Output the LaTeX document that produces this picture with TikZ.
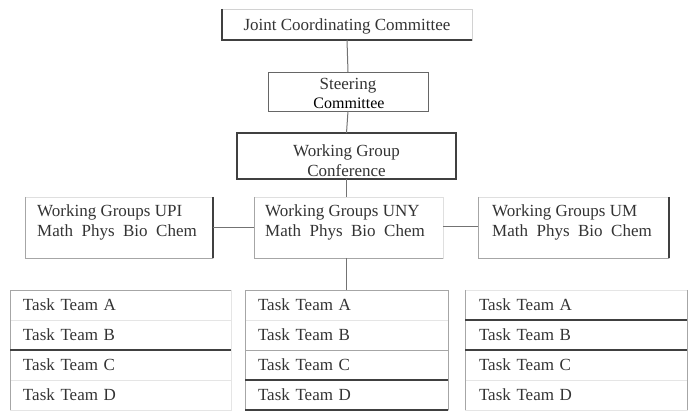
\documentclass[tikz,border=0pt]{standalone}
\usepackage{fontspec}
\setmainfont{Liberation Serif}
\usetikzlibrary{positioning,calc}

\begin{document}
\begin{tikzpicture}[x=1pt, y=-1pt, font=\fontsize{17}{20}\selectfont, text=black!80,
  box/.style={draw=gray!60, line width=0.9pt, inner sep=0pt, outer sep=0pt},
  wg/.style={draw=gray!25, line width=0.9pt, minimum height=61pt, outer sep=0pt},
  lbl/.style={inner sep=0pt, align=left},
  row/.style={draw=gray!20, line width=0.8pt, align=left, minimum height=30pt, outer sep=0pt},
  edge/.style={draw=gray!70, line width=0.9pt},
  dark/.style={draw=black!75, line width=1.2pt},
  link/.style={draw=black!55, line width=1pt}]
  \useasboundingbox (0,0) rectangle (691,411);
  % committees
  \node[box, minimum width=250pt, minimum height=31pt, draw=gray!35] (jcc) at (347,24.5) {};
  \node[lbl, anchor=base] (jcctxt) at (347,31) {Joint Coordinating Committee};
  \node[box, minimum width=160pt, minimum height=39pt, draw=black!60] (steer) at (348,91.5) {};
  \node[lbl, anchor=base] (steertxt) at (348,90) {Steering};
  \node[fill=white, inner xsep=0pt, inner ysep=1.5pt, minimum width=120pt, font=\fontsize{16}{18}\selectfont, text=black] (comm) at (349,103.5) {Committee};
  \node[box, minimum width=219pt, minimum height=46pt, draw=black!75, line width=1.6pt] (wgc) at (346.5,156) {};
  \node[lbl, align=center, anchor=base] (wgctxt) at (346.5,177) {Working Group\\Conference};
  % working groups
  \node[wg, minimum width=188pt] (upi) at (119,227.5) {};
  \node[wg, minimum width=189pt] (uny) at (348.5,227.5) {};
  \node[wg, minimum width=191pt] (um) at (573.5,227.5) {};
  \node[lbl, anchor=base west] (upitxt) at (37,237) {Working Groups UPI\\Math~~Phys~~Bio~~Chem};
  \node[lbl, anchor=base west] (unytxt) at (265,237) {Working Groups UNY\\Math~~Phys~~Bio~~Chem};
  \node[lbl, anchor=base west] (umtxt) at (492,237) {Working Groups UM\\Math~~Phys~~Bio~~Chem};
  % task teams
  \node[row, minimum width=221pt, inner xsep=13pt, text width=195pt] (ta1) at (120.5,305) {Task Team A};
  \node[row, minimum width=221pt, inner xsep=13pt, text width=195pt, below=0pt of ta1] (ta2) {Task Team B};
  \node[row, minimum width=221pt, inner xsep=13pt, text width=195pt, below=0pt of ta2] (ta3) {Task Team C};
  \node[row, minimum width=221pt, inner xsep=13pt, text width=195pt, below=0pt of ta3] (ta4) {Task Team D};
  \node[row, minimum width=203pt, inner xsep=13pt, text width=177pt] (tb1) at (346.5,305) {Task Team A};
  \node[row, minimum width=203pt, inner xsep=13pt, text width=177pt, below=0pt of tb1] (tb2) {Task Team B};
  \node[row, minimum width=203pt, inner xsep=13pt, text width=177pt, below=0pt of tb2] (tb3) {Task Team C};
  \node[row, minimum width=203pt, inner xsep=13pt, text width=177pt, below=0pt of tb3] (tb4) {Task Team D};
  \node[row, minimum width=222pt, inner xsep=14pt, text width=194pt] (tc1) at (576,305) {Task Team A};
  \node[row, minimum width=222pt, inner xsep=14pt, text width=194pt, below=0pt of tc1] (tc2) {Task Team B};
  \node[row, minimum width=222pt, inner xsep=14pt, text width=194pt, below=0pt of tc2] (tc3) {Task Team C};
  \node[row, minimum width=222pt, inner xsep=14pt, text width=194pt, below=0pt of tc3] (tc4) {Task Team D};
  % darker box sides
  \draw[dark] (jcc.north west) -- (jcc.south west) -- (jcc.south east);
  \draw[edge] (upi.north west) -- (upi.south west) -- (upi.south east);
  \draw[dark] (upi.north east) -- (upi.south east);
  \draw[edge] (uny.north west) -- (uny.south west) -- (uny.south east);
  \draw[edge] (um.north west) -- (um.south west) -- (um.south east);
  \draw[dark] (um.north east) -- (um.south east);
  % table lines
  \draw[edge] (ta1.north east) -- (ta1.north west) -- (ta4.south west);
  \draw[dark] (ta2.south west) -- (ta2.south east);
  \draw[edge] (tb4.south west) -- (tb1.north west) -- (tb1.north east) -- (tb4.south east);
  \draw[edge] (tb2.south west) -- (tb2.south east);
  \draw[dark] (tb3.south west) -- (tb3.south east);
  \draw[dark] (tb4.south west) -- (tb4.south east);
  \draw[edge] (tc1.north west) -- (tc4.south west);
  \draw[edge] (tc1.north east) -- (tc4.south east);
  \draw[dark] (tc1.south west) -- (tc1.south east);
  \draw[dark] (tc2.south west) -- (tc2.south east);
  % connectors
  \draw[link] (jcc.south) -- (steer.north);
  \draw[link] (steer.south) -- (wgc.north);
  \draw[link] (wgc.south) -- (wgc.south |- uny.north);
  \draw[link] (upi.east |- 0,228) -- (uny.west |- 0,228);
  \draw[link] (uny.east |- 0,227) -- (um.west |- 0,227);
  \draw[link] (uny.south -| wgc.south) -- (wgc.south |- tb1.north);
  \draw[link] ($(um.south)+(-5,0)$) -- ($(um.south)+(-5,0)$ |- tc1.north);
  \draw[draw=gray!15, line width=0.8pt] ($(upi.south)+(8,0)$) -- ($(upi.south)+(8,0)$ |- ta1.north);
\end{tikzpicture}
\end{document}
